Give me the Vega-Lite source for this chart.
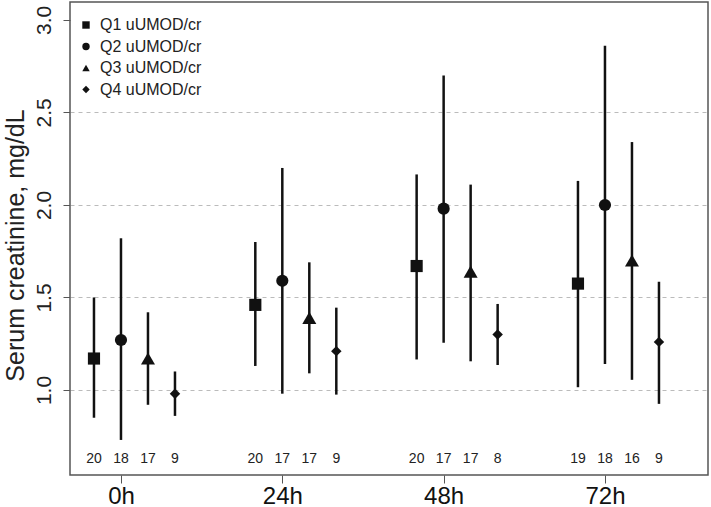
{
  "$schema": "https://vega.github.io/schema/vega-lite/v6.json",
  "width": 638,
  "height": 473,
  "autosize": "none",
  "padding": {"left": 70, "top": 2, "right": 3, "bottom": 32},
  "background": "white",
  "config": {
    "view": {"stroke": "#555555", "strokeWidth": 1.5},
    "font": "Liberation Sans"
  },
  "data": {
    "values": [
      {"time": "0h", "group": "Q1 uUMOD/cr", "mean": 1.17, "lo": 0.85, "hi": 1.50, "n": 20},
      {"time": "0h", "group": "Q2 uUMOD/cr", "mean": 1.27, "lo": 0.73, "hi": 1.82, "n": 18},
      {"time": "0h", "group": "Q3 uUMOD/cr", "mean": 1.17, "lo": 0.92, "hi": 1.42, "n": 17},
      {"time": "0h", "group": "Q4 uUMOD/cr", "mean": 0.98, "lo": 0.86, "hi": 1.10, "n": 9},
      {"time": "24h", "group": "Q1 uUMOD/cr", "mean": 1.46, "lo": 1.13, "hi": 1.80, "n": 20},
      {"time": "24h", "group": "Q2 uUMOD/cr", "mean": 1.59, "lo": 0.98, "hi": 2.20, "n": 17},
      {"time": "24h", "group": "Q3 uUMOD/cr", "mean": 1.39, "lo": 1.09, "hi": 1.69, "n": 17},
      {"time": "24h", "group": "Q4 uUMOD/cr", "mean": 1.21, "lo": 0.975, "hi": 1.445, "n": 9},
      {"time": "48h", "group": "Q1 uUMOD/cr", "mean": 1.67, "lo": 1.165, "hi": 2.165, "n": 20},
      {"time": "48h", "group": "Q2 uUMOD/cr", "mean": 1.98, "lo": 1.255, "hi": 2.70, "n": 17},
      {"time": "48h", "group": "Q3 uUMOD/cr", "mean": 1.64, "lo": 1.155, "hi": 2.11, "n": 17},
      {"time": "48h", "group": "Q4 uUMOD/cr", "mean": 1.30, "lo": 1.135, "hi": 1.465, "n": 8},
      {"time": "72h", "group": "Q1 uUMOD/cr", "mean": 1.575, "lo": 1.015, "hi": 2.13, "n": 19},
      {"time": "72h", "group": "Q2 uUMOD/cr", "mean": 2.00, "lo": 1.14, "hi": 2.86, "n": 18},
      {"time": "72h", "group": "Q3 uUMOD/cr", "mean": 1.70, "lo": 1.055, "hi": 2.34, "n": 16},
      {"time": "72h", "group": "Q4 uUMOD/cr", "mean": 1.26, "lo": 0.925, "hi": 1.585, "n": 9}
    ]
  },
  "encoding": {
    "x": {
      "field": "time",
      "type": "ordinal",
      "sort": ["0h", "24h", "48h", "72h"],
      "scale": {"type": "point", "padding": 0.4773, "align": 0.331},
      "axis": {
        "title": null,
        "domain": false,
        "grid": false,
        "tickSize": 8,
        "tickColor": "#555555",
        "tickWidth": 1,
        "labelAngle": 0,
        "labelFontSize": 24,
        "labelPadding": 1,
        "labelColor": "#111111"
      }
    },
    "xOffset": {
      "field": "group",
      "type": "nominal",
      "scale": {
        "type": "point",
        "domain": ["Q1 uUMOD/cr", "Q2 uUMOD/cr", "Q3 uUMOD/cr", "Q4 uUMOD/cr"],
        "range": [-27, 54],
        "padding": 0
      }
    }
  },
  "layer": [
    {
      "mark": {"type": "rule", "strokeWidth": 2.5, "color": "#111111"},
      "encoding": {
        "y": {
          "field": "lo",
          "type": "quantitative",
          "scale": {"domain": [0.5405, 3.097], "nice": false, "zero": false},
          "axis": {
            "values": [1, 1.5, 2, 2.5, 3],
            "format": ".1f",
            "domain": false,
            "tickSize": 7,
            "tickColor": "#555555",
            "labelAngle": -90,
            "labelAlign": "center",
            "labelBaseline": "alphabetic",
            "labelPadding": 13,
            "labelFontSize": 21,
            "labelColor": "#222222",
            "grid": true,
            "gridDash": [4, 4],
            "gridColor": "#bbbbbb",
            "gridWidth": 1,
            "gridOpacity": {"condition": {"test": "datum.value >= 2.9", "value": 0}, "value": 1},
            "title": "Serum creatinine, mg/dL",
            "titleFontSize": 25,
            "titleFontWeight": "normal",
            "titleColor": "#222222",
            "titleAngle": -90,
            "titleX": -55,
            "titleY": 243,
            "titleAlign": "center",
            "titleBaseline": "middle"
          }
        },
        "y2": {"field": "hi"}
      }
    },
    {
      "mark": {"type": "point", "filled": true, "opacity": 1, "color": "#111111"},
      "encoding": {
        "y": {"field": "mean", "type": "quantitative"},
        "shape": {
          "field": "group",
          "type": "nominal",
          "scale": {
            "domain": ["Q1 uUMOD/cr", "Q2 uUMOD/cr", "Q3 uUMOD/cr", "Q4 uUMOD/cr"],
            "range": ["square", "circle", "triangle-up", "diamond"]
          },
          "legend": {
            "title": null,
            "orient": "none",
            "legendX": 8,
            "legendY": 15,
            "padding": 0,
            "labelFontSize": 16,
            "labelColor": "#222222",
            "labelOffset": 6,
            "symbolSize": 55,
            "symbolFillColor": "#111111",
            "symbolStrokeColor": "#111111",
            "symbolStrokeWidth": 0,
            "rowPadding": 5.5
          }
        },
        "size": {
          "condition": [
            {"test": "datum.group === 'Q3 uUMOD/cr'", "value": 196},
            {"test": "datum.group === 'Q4 uUMOD/cr'", "value": 110}
          ],
          "value": 148
        }
      }
    },
    {
      "mark": {"type": "text", "fontSize": 14, "color": "#222222", "baseline": "middle"},
      "encoding": {
        "y": {"datum": 0.627},
        "text": {"field": "n", "type": "quantitative"}
      }
    }
  ]
}
